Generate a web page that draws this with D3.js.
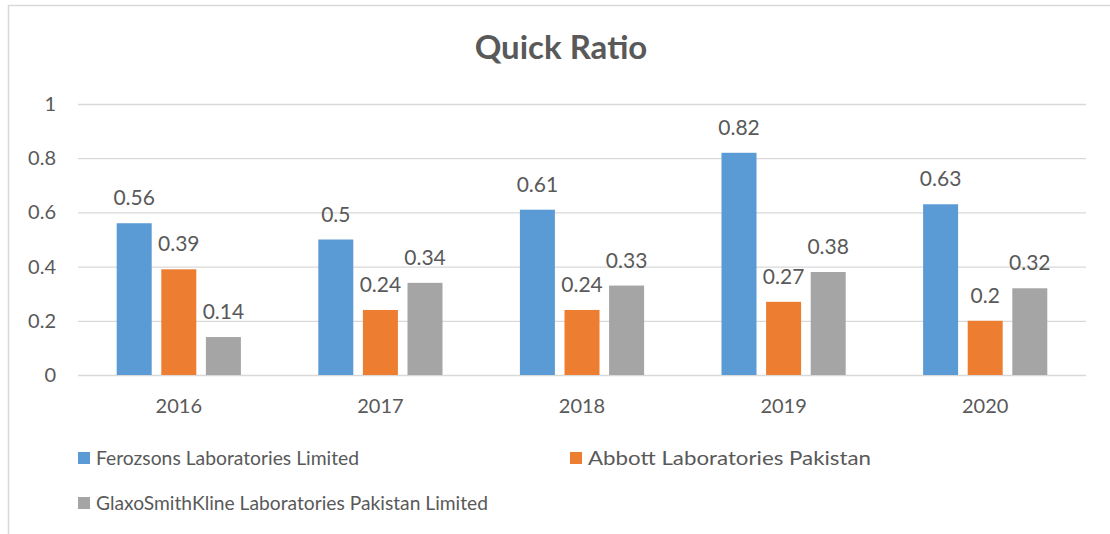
<!DOCTYPE html>
<html>
<head>
<meta charset="utf-8">
<script src="https://cdn.jsdelivr.net/npm/d3@7"></script>
<style>
  body { margin: 0; background: #fff; }
  text { font-family: Lato, "Open Sans", sans-serif; fill: #595959; }
</style>
</head>
<body>
<div id="chart"></div>
<script>
// chart data
const years = ['2016', '2017', '2018', '2019', '2020'];
const seriesNames = [
  'Ferozsons Laboratories Limited',
  'Abbott Laboratories Pakistan',
  'GlaxoSmithKline Laboratories Pakistan Limited',
];
const ferozsons = [0.56, 0.5, 0.61, 0.82, 0.63];
const abbott = [0.39, 0.24, 0.24, 0.27, 0.2];
const gsk = [0.14, 0.34, 0.33, 0.38, 0.32];
const yTicks = [0, 0.2, 0.4, 0.6, 0.8, 1];

const colors = ['#5b9bd5', '#ed7d31', '#a5a5a5'];
const seriesValues = [ferozsons, abbott, gsk];

const width = 1110;
const height = 534;
const margin = { top: 104, right: 24, bottom: 159, left: 78 };
const chartWidth = width - margin.left - margin.right;
const chartHeight = height - margin.top - margin.bottom;

const svg = d3.select('#chart').append('svg')
  .attr('width', width)
  .attr('height', height);

// chart border (right and bottom edges run off the picture)
svg.append('rect')
  .attr('x', 8.5)
  .attr('y', 5.5)
  .attr('width', width + 10)
  .attr('height', height + 10)
  .attr('fill', 'none')
  .attr('stroke', '#d9d9d9')
  .attr('stroke-width', 1.5);

svg.append('text')
  .attr('x', 561)
  .attr('y', 59)
  .attr('text-anchor', 'middle')
  .attr('font-size', '33px')
  .attr('font-weight', 'bold')
  .text('Quick Ratio');

const g = svg.append('g').attr('transform', `translate(${margin.left},${margin.top})`);

const xScale = d3.scaleBand().domain(years).range([0, chartWidth]);
const yScale = d3.scaleLinear().domain([0, 1]).range([chartHeight, 0]);
const barWidth = 35;
const barStep = 44.6;
const xInner = d3.scaleBand().domain(d3.range(seriesNames.length))
  .range([0, barStep * seriesNames.length]);

// gridlines + y labels
g.append('g')
  .call(d3.axisLeft(yScale).tickValues(yTicks).tickSize(-chartWidth).tickFormat(d => String(d)))
  .call(ax => ax.select('.domain').remove())
  .call(ax => ax.selectAll('line').attr('stroke', '#d9d9d9').attr('stroke-width', 1.3))
  .call(ax => ax.selectAll('text').attr('x', -22).attr('font-size', '20px').attr('fill', '#595959'));

// x axis labels
g.append('g')
  .attr('transform', `translate(0,${chartHeight})`)
  .call(d3.axisBottom(xScale).tickSize(0))
  .call(ax => ax.select('.domain').remove())
  .call(ax => ax.selectAll('text').attr('y', 38).attr('dy', 0).attr('font-size', '20px').attr('fill', '#595959'));

const groupOffset = (xScale.bandwidth() - (barStep * 2 + barWidth)) / 2;

seriesValues.forEach((values, si) => {
  const grp = g.append('g');
  grp.selectAll('rect')
    .data(values)
    .join('rect')
      .attr('x', (d, i) => xScale(years[i]) + groupOffset + xInner(si))
      .attr('y', d => yScale(d))
      .attr('width', barWidth)
      .attr('height', d => chartHeight - yScale(d))
      .attr('fill', colors[si]);

  grp.selectAll('text')
    .data(values)
    .join('text')
      .attr('x', (d, i) => xScale(years[i]) + groupOffset + xInner(si) + barWidth / 2)
      .attr('y', d => yScale(d) - 18)
      .attr('text-anchor', 'middle')
      .attr('font-size', '21px')
      .text(d => String(d));
});

// legend
const legendPos = [[78, 458], [570, 458], [78, 503]];
const legendTextWidth = [263, 283, 392];
seriesNames.forEach((name, i) => {
  const [lx, ly] = legendPos[i];
  svg.append('rect')
    .attr('x', lx)
    .attr('y', ly - 6)
    .attr('width', 12)
    .attr('height', 12)
    .attr('fill', colors[i]);
  svg.append('text')
    .attr('x', lx + 18)
    .attr('y', ly)
    .attr('dy', '0.36em')
    .attr('font-size', '20px')
    .attr('textLength', legendTextWidth[i])
    .attr('lengthAdjust', 'spacingAndGlyphs')
    .text(name);
});
</script>
</body>
</html>
